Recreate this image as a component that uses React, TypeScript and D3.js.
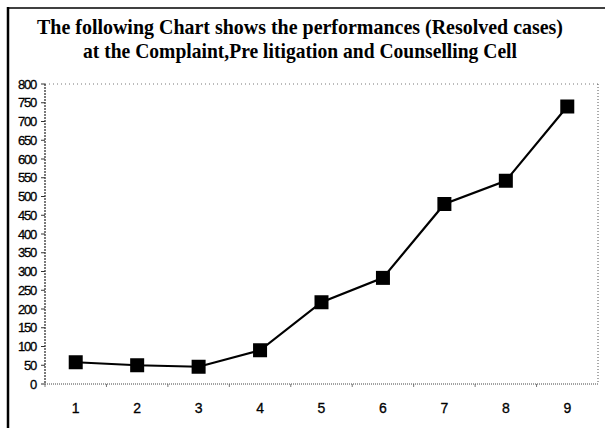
import * as d3 from "d3";

const titleLines = [
  "The following Chart shows the performances (Resolved cases)",
  "at the Complaint,Pre litigation and Counselling Cell",
];
const titleWidths = [526, 434];
const categories = ["1", "2", "3", "4", "5", "6", "7", "8", "9"];
const resolved = [58, 50, 46, 90, 218, 283, 480, 542, 740];
const yTicks = d3.range(0, 801, 50);

const width = 605;
const height = 428;
const marginLeft = 45;
const marginRight = 7;
const marginTop = 84;
const plotBottom = 384;

export default function App() {
  const x = d3
    .scaleBand<string>()
    .domain(categories)
    .range([marginLeft, width - marginRight]);
  const y = d3.scaleLinear([0, 800], [plotBottom, marginTop]);
  const cx = (i: number) => (x(categories[i]) ?? 0) + x.bandwidth() / 2;
  const line = d3.line<number>((_d, i) => cx(i), y);

  return (
    <svg
      width={width}
      height={height}
      style={{ position: "absolute", left: 0, top: 0, background: "#fff" }}
    >
      {/* outer frame: thick left edge and a top rule */}
      <line x1={8} x2={8} y1={7} y2={height} stroke="#000" strokeWidth={2.5} />
      <line x1={8} x2={width} y1={8} y2={8} stroke="#000" strokeWidth={1.5} />

      <g
        fontFamily="'Liberation Serif', 'Times New Roman', serif"
        fontWeight="bold"
        fontSize={21}
        textAnchor="middle"
      >
        {titleLines.map((t, i) => (
          <text
            key={i}
            x={300}
            y={34 + i * 24}
            fill="#000"
            textLength={titleWidths[i]}
            lengthAdjust="spacingAndGlyphs"
          >
            {t}
          </text>
        ))}
      </g>

      {/* plot frame, dotted */}
      <line
        x1={marginLeft}
        x2={width - marginRight}
        y1={marginTop}
        y2={marginTop}
        stroke="#777"
        strokeWidth={1}
        strokeDasharray="1,3"
      />
      <line
        x1={width - marginRight}
        x2={width - marginRight}
        y1={marginTop}
        y2={plotBottom}
        stroke="#555"
        strokeWidth={1}
        strokeDasharray="1,2"
      />
      <line
        x1={marginLeft}
        x2={width - marginRight}
        y1={plotBottom}
        y2={plotBottom}
        stroke="#444"
        strokeWidth={1}
        strokeDasharray="1,1"
      />
      <line
        x1={marginLeft}
        x2={marginLeft}
        y1={marginTop}
        y2={plotBottom}
        stroke="#222"
        strokeWidth={1.2}
        strokeDasharray="2,1"
      />

      {/* y axis */}
      <g
        fontFamily="'Liberation Sans', Arial, sans-serif"
        fontSize={13}
        fill="#000"
        stroke="#000"
        strokeWidth={0.3}
      >
        {yTicks.map((t) => (
          <g key={t}>
            <line
              x1={marginLeft - 4}
              x2={marginLeft}
              y1={y(t)}
              y2={y(t)}
              stroke="#333"
              strokeWidth={1}
            />
            <text x={36} y={y(t)} dy="0.35em" textAnchor="end" letterSpacing={-1.2}>
              {t}
            </text>
          </g>
        ))}
      </g>

      {/* x axis labels */}
      <g
        fontFamily="'Liberation Sans', Arial, sans-serif"
        fontSize={14}
        textAnchor="middle"
        stroke="#000"
        strokeWidth={0.3}
      >
        {categories.map((c, i) => (
          <g key={c}>
            <line
              x1={x(c) ?? 0}
              x2={x(c) ?? 0}
              y1={plotBottom}
              y2={plotBottom + 3}
              stroke="#555"
              strokeWidth={0.8}
            />
            <text x={cx(i)} y={413}>
              {c}
            </text>
          </g>
        ))}
      </g>

      <path d={line(resolved) || ""} fill="none" stroke="#000" strokeWidth={2.2} />
      <g fill="#000">
        {resolved.map((d, i) => (
          <rect key={i} x={cx(i) - 7} y={y(d) - 7} width={14} height={14} />
        ))}
      </g>
    </svg>
  );
}
